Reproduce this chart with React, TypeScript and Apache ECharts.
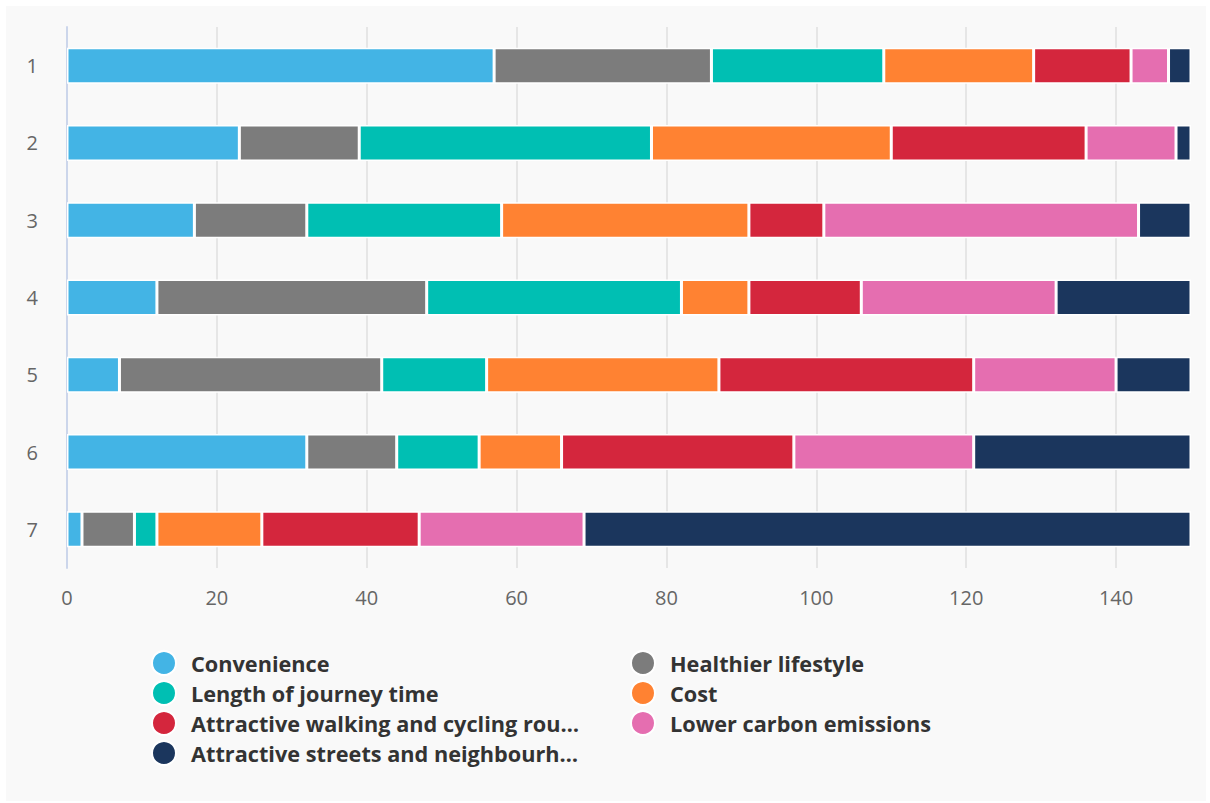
import React, { useEffect, useRef } from "react";
import * as echarts from "echarts";

const categories = ["1", "2", "3", "4", "5", "6", "7"];
const seriesNames = [
  "Convenience",
  "Healthier lifestyle",
  "Length of journey time",
  "Cost",
  "Attractive walking and cycling routes",
  "Lower carbon emissions",
  "Attractive streets and neighbourhoods",
];
const legendLabels: Record<string, string> = {
  "Attractive walking and cycling routes": "Attractive walking and cycling rou…",
  "Attractive streets and neighbourhoods": "Attractive streets and neighbourh…",
};
const convenience = [57, 23, 17, 12, 7, 32, 2];
const healthier = [29, 16, 15, 36, 35, 12, 7];
const journeyTime = [23, 39, 26, 34, 14, 11, 3];
const cost = [20, 32, 33, 9, 31, 11, 14];
const walkingCycling = [13, 26, 10, 15, 34, 31, 21];
const lowerCarbon = [5, 12, 42, 26, 19, 24, 22];
const streets = [3, 2, 7, 18, 10, 29, 81];
const seriesValues = [convenience, healthier, journeyTime, cost, walkingCycling, lowerCarbon, streets];
const colors = ["#43b4e5", "#7c7c7c", "#00bfb3", "#ff8232", "#d4263d", "#e56eb0", "#1b365d"];
const xTicks = { min: 0, max: 150, interval: 20 };

const FONT = "'Open Sans', Lato, sans-serif";

export default function App() {
  const ref = useRef<HTMLDivElement>(null);
  useEffect(() => {
    if (!ref.current) return;
    const chart = echarts.init(ref.current, null, { renderer: "svg" });
    const legendCommon = {
      orient: "vertical" as const,
      icon: "circle",
      itemWidth: 44,
      itemHeight: 24,
      itemGap: 4,
      selectedMode: false,
      formatter: (n: string) => legendLabels[n] || n,
      textStyle: { fontFamily: FONT, fontSize: 21.7, fontWeight: "bold" as const, color: "#333333", lineHeight: 24 },
    };
    chart.setOption({
      animation: false,
      backgroundColor: "#f9f9f9",
      color: colors,
      grid: { left: 61, right: 15, top: 21, bottom: 233, containLabel: false },
      xAxis: {
        type: "value",
        min: xTicks.min,
        max: xTicks.max,
        interval: xTicks.interval,
        axisLine: { show: false },
        axisTick: { show: false },
        axisLabel: { color: "#666666", fontFamily: FONT, fontSize: 20, margin: 19, showMaxLabel: false },
        splitLine: { show: true, showMaxLine: false, lineStyle: { color: "#e6e6e6", width: 2 } },
      },
      yAxis: {
        type: "category",
        inverse: true,
        data: categories,
        axisLine: { show: true, lineStyle: { color: "#ccd6eb", width: 2 } },
        axisTick: { show: false },
        axisLabel: { color: "#666666", fontFamily: FONT, fontSize: 20, margin: 29 },
      },
      legend: [
        { ...legendCommon, left: 140, top: 639, data: [seriesNames[0], seriesNames[2], seriesNames[4], seriesNames[6]] },
        { ...legendCommon, left: 619, top: 639, data: [seriesNames[1], seriesNames[3], seriesNames[5]] },
      ],
      series: seriesNames.map((name, i) => ({
        name,
        type: "bar",
        stack: "total",
        barWidth: 36,
        data: seriesValues[i],
        itemStyle: { borderColor: "#ffffff", borderWidth: 1.5 },
        emphasis: { disabled: true },
      })),
    });
    return () => chart.dispose();
  }, []);
  return (
    <div
      ref={ref}
      style={{ position: "absolute", left: 6, top: 6, width: 1200, height: 795 }}
    />
  );
}
